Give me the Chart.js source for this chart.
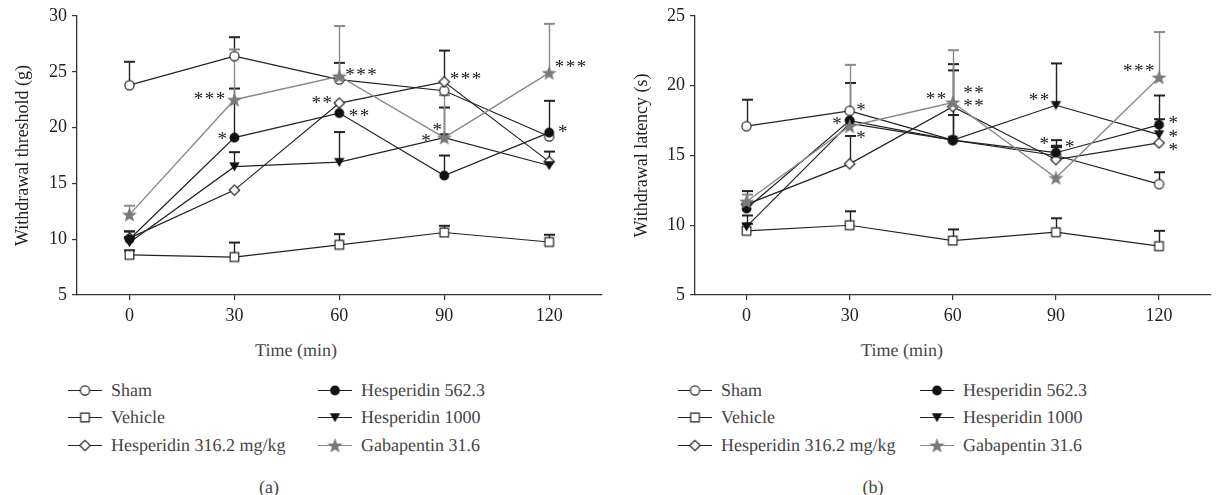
<!DOCTYPE html>
<html>
<head>
<meta charset="utf-8">
<script src="https://cdn.jsdelivr.net/npm/chart.js@4/dist/chart.umd.min.js"></script>
<style>
  body { margin: 0; background: #fff; font-family: "Liberation Serif", "DejaVu Serif", serif; color: #222; }
  #page { position: relative; width: 1218px; height: 495px; overflow: hidden; }
  .panel { position: absolute; top: 0; width: 609px; height: 330px; }
  .txt { position: absolute; font-size: 18px; font-weight: 400; line-height: 22px; height: 22px; white-space: nowrap; color: #444;
         text-rendering: geometricPrecision; -webkit-font-smoothing: antialiased; }
  .key { position: absolute; }
</style>
</head>
<body>
<div id="page">
  <div class="panel" style="left:0"><canvas id="chartA" width="609" height="330"></canvas></div>
  <div class="panel" style="left:609px"><canvas id="chartB" width="609" height="330"></canvas></div>
</div>
<script>
// time points and axis ticks
const times = [0, 30, 60, 90, 120];
const xTicks = [0, 30, 60, 90, 120];
const seriesNames = ['Sham', 'Vehicle', 'Hesperidin 316.2 mg/kg', 'Hesperidin 562.3', 'Hesperidin 1000', 'Gabapentin 31.6'];

// (a) withdrawal threshold (g), means and upper error
const shamA    = [23.8, 26.4, 24.3, 23.3, 19.2];
const vehicleA = [8.6, 8.4, 9.5, 10.6, 9.75];
const hes316A  = [10.1, 14.4, 22.2, 24.1, 16.95];
const hes562A  = [10.0, 19.1, 21.3, 15.7, 19.55];
const hes1000A = [9.7, 16.5, 16.9, 19.1, 16.6];
const gabaA    = [12.2, 22.5, 24.6, 19.1, 24.9];
const shamErrA    = [2.1, 1.7, 1.5, 0, 0];
const vehicleErrA = [0.4, 1.3, 0.95, 0.6, 0.65];
const hes316ErrA  = [0.6, 0, 0, 2.8, 0.9];
const hes562ErrA  = [0.7, 4.4, 0, 1.8, 2.85];
const hes1000ErrA = [0.5, 1.3, 2.7, 2.7, 0];
const gabaErrA    = [0.8, 4.5, 4.5, 3.8, 4.4];

// (b) withdrawal latency (s)
const shamB    = [17.1, 18.2, 16.1, 15.0, 12.95];
const vehicleB = [9.6, 10.0, 8.9, 9.5, 8.5];
const hes316B  = [11.5, 14.4, 18.5, 14.7, 15.9];
const hes562B  = [11.2, 17.5, 16.1, 15.2, 17.2];
const hes1000B = [9.9, 17.3, 16.1, 18.6, 16.5];
const gabaB    = [11.7, 17.1, 18.8, 13.4, 20.6];
const shamErrB    = [1.9, 0, 0, 0.6, 0.85];
const vehicleErrB = [0.5, 1.0, 0.8, 1.0, 1.1];
const hes316ErrB  = [0, 2.0, 3.05, 1.0, 0];
const hes562ErrB  = [1.25, 2.7, 1.8, 0.9, 2.1];
const hes1000ErrB = [0.8, 0, 5.0, 3.0, 1.1];
const gabaErrB    = [0.5, 4.4, 3.75, 0, 3.25];

// significance marks: [time, value, text]
const marksA = [
  [22.9, 22.86, '***'], [26.5, 19.33, '*'],
  [55.0, 22.56, '**'], [66.2, 25.07, '***'], [65.6, 21.33, '**'],
  [96.1, 24.7, '***'], [88.0, 20.08, '*'], [84.8, 19.13, '*'],
  [126.1, 25.76, '***'], [123.9, 19.94, '*']
];
const marksB = [
  [33.3, 18.5, '*'], [26.3, 17.5, '*'], [33.3, 16.48, '*'],
  [55.1, 19.29, '**'], [66.0, 19.76, '**'], [66.0, 18.8, '**'],
  [85.1, 19.2, '**'], [86.6, 16.07, '*'], [94.0, 15.83, '*'],
  [114.1, 21.3, '***'], [124.1, 17.55, '*'], [124.1, 16.6, '*'], [124.1, 15.67, '*']
];

const INK = '#222';
const GREY = '#8a8a8a';
const FONT = '"Liberation Serif", "DejaVu Serif", serif';
const markerKinds = ['openCircle', 'openSquare', 'openDiamond', 'dot', 'triDown', 'star'];
const lineColors = [INK, INK, INK, INK, INK, GREY];

// small canvas images used as point styles
function makeMarker(kind) {
  const c = document.createElement('canvas');
  c.width = 17; c.height = 17;
  const g = c.getContext('2d');
  const m = 8.5;
  g.lineWidth = 1.2;
  g.strokeStyle = INK;
  g.beginPath();
  if (kind === 'openCircle') {
    g.arc(m, m, 4.6, 0, Math.PI * 2);
    g.fillStyle = '#fff'; g.fill(); g.stroke();
  } else if (kind === 'openSquare') {
    g.rect(m - 4.3, m - 4.3, 8.6, 8.6);
    g.fillStyle = '#fff'; g.fill(); g.stroke();
  } else if (kind === 'openDiamond') {
    g.moveTo(m, m - 5.2); g.lineTo(m + 5.2, m); g.lineTo(m, m + 5.2); g.lineTo(m - 5.2, m); g.closePath();
    g.fillStyle = '#fff'; g.fill(); g.stroke();
  } else if (kind === 'dot') {
    g.arc(m, m, 4.9, 0, Math.PI * 2);
    g.fillStyle = '#111'; g.fill();
  } else if (kind === 'triDown') {
    g.moveTo(m - 5.2, m - 4.2); g.lineTo(m + 5.2, m - 4.2); g.lineTo(m, m + 4.8); g.closePath();
    g.fillStyle = '#111'; g.fill();
  } else if (kind === 'star') {
    for (let k = 0; k < 10; k++) {
      const r = k % 2 === 0 ? 8 : 3.3;
      const a = -Math.PI / 2 + k * Math.PI / 5;
      const px = m + r * Math.cos(a), py = m + 0.6 + r * Math.sin(a);
      if (k === 0) g.moveTo(px, py); else g.lineTo(px, py);
    }
    g.closePath();
    g.fillStyle = '#7a7a7a'; g.fill();
  }
  return c;
}
const markers = markerKinds.map(makeMarker);

// upper error bars, drawn through the chart scales
const errorBars = {
  id: 'errorBars',
  beforeDatasetsDraw(chart) {
    const { ctx, scales: { x, y } } = chart;
    chart.data.datasets.forEach(ds => {
      ds.data.forEach((p, i) => {
        const e = ds.errors[i];
        if (!e) return;
        const px = Math.round(x.getPixelForValue(p.x)) + 0.5;
        const py = y.getPixelForValue(p.y);
        const pt = y.getPixelForValue(p.y + e);
        ctx.save();
        ctx.strokeStyle = ds.borderColor;
        ctx.lineWidth = 1.4;
        ctx.beginPath(); ctx.moveTo(px, py); ctx.lineTo(px, pt); ctx.stroke();
        ctx.lineWidth = 2;
        ctx.beginPath(); ctx.moveTo(px - 5.5, pt); ctx.lineTo(px + 5.5, pt); ctx.stroke();
        ctx.restore();
      });
    });
  }
};

// asterisks placed on the scales
const starMarks = {
  id: 'starMarks',
  afterDatasetsDraw(chart, args, opts) {
    const { ctx, scales: { x, y } } = chart;
    ctx.save();
    ctx.font = '19px ' + FONT;
    ctx.fillStyle = INK;
    ctx.textAlign = 'center';
    ctx.textBaseline = 'alphabetic';
    (opts.marks || []).forEach(([t, v, s]) => {
      const cx = x.getPixelForValue(t);
      const cy = y.getPixelForValue(v) + 9.5;
      const n = s.length, pitch = 11;
      for (let k = 0; k < n; k++) {
        ctx.fillText('*', cx + (k - (n - 1) / 2) * pitch, cy);
      }
    });
    ctx.restore();
  }
};

function makeDatasets(values, errors) {
  return values.map((vals, s) => ({
    label: seriesNames[s],
    data: times.map((t, i) => ({ x: t, y: vals[i] })),
    errors: errors[s],
    borderColor: lineColors[s],
    borderWidth: s === 5 ? 1.4 : 1.2,
    pointStyle: markers[s],
    pointRadius: 6,
    order: values.length - s,
    tension: 0,
    fill: false
  }));
}

function buildChart(id, yTitle, yMax, titlePad, axisWidth, padRight, datasets, marks) {
  const tickFont = { family: FONT, size: 18 };
  return new Chart(document.getElementById(id), {
    type: 'line',
    data: { datasets: datasets },
    plugins: [errorBars, starMarks],
    options: {
      responsive: false,
      animation: false,
      devicePixelRatio: 1,
      layout: { padding: { top: 16, right: padRight, left: 0, bottom: 0 } },
      plugins: {
        legend: { display: false },
        tooltip: { enabled: false },
        starMarks: { marks: marks }
      },
      scales: {
        x: {
          type: 'linear',
          min: -15,
          max: 135,
          afterBuildTicks: s => { s.ticks = xTicks.map(v => ({ value: v })); },
          afterFit: s => { s.height = 35; },
          grid: { drawOnChartArea: false, tickLength: 5, color: '#333', lineWidth: 1.2 },
          border: { color: '#333', width: 1.3 },
          ticks: { font: tickFont, color: INK, padding: 5, maxRotation: 0 }
        },
        y: {
          min: 5,
          max: yMax,
          afterFit: s => { s.width = axisWidth; },
          grid: { drawOnChartArea: false, tickLength: 5, color: '#333', lineWidth: 1.2 },
          border: { color: '#333', width: 1.3 },
          ticks: { stepSize: 5, font: tickFont, color: INK, padding: 5 },
          title: { display: true, text: yTitle, font: tickFont, color: INK, padding: { top: titlePad, bottom: 0 } }
        }
      }
    }
  });
}

buildChart('chartA', 'Withdrawal threshold (g)', 30, 12, 77, 6,
  makeDatasets([shamA, vehicleA, hes316A, hes562A, hes1000A, gabaA],
               [shamErrA, vehicleErrA, hes316ErrA, hes562ErrA, hes1000ErrA, gabaErrA]), marksA);
buildChart('chartB', 'Withdrawal latency (s)', 25, 22, 86, 0,
  makeDatasets([shamB, vehicleB, hes316B, hes562B, hes1000B, gabaB],
               [shamErrB, vehicleErrB, hes316ErrB, hes562ErrB, hes1000ErrB, gabaErrB]), marksB);

// page text: axis titles, legends, captions
const page = document.getElementById('page');
function addText(str, left, centerY, align) {
  const d = document.createElement('div');
  d.className = 'txt';
  d.textContent = str;
  d.style.top = (centerY - 11) + 'px';
  d.style.left = left + 'px';
  if (align === 'center') d.style.transform = 'translateX(-50%)';
  page.appendChild(d);
}
function addKey(s, left, centerY) {
  const c = document.createElement('canvas');
  c.width = 34; c.height = 18;
  c.className = 'key';
  c.style.left = left + 'px';
  c.style.top = (centerY - 9) + 'px';
  const g = c.getContext('2d');
  g.strokeStyle = lineColors[s];
  g.lineWidth = 1.2;
  g.beginPath(); g.moveTo(0, 9.5); g.lineTo(34, 9.5); g.stroke();
  g.drawImage(markers[s], 17 - 8.5, 9.5 - 8.5);
  page.appendChild(c);
}

const panelLeft = [0, 609];
const titleCenter = [296, 293];
const captionCenter = [269, 264];
const captions = ['(a)', '(b)'];
const keyCols = [[68, 318], [69, 311]];
const rowsY = [390, 417, 445];
panelLeft.forEach((off, p) => {
  addText('Time (min)', off + titleCenter[p], 350, 'center');
  addText(captions[p], off + captionCenter[p], 487, 'center');
  seriesNames.forEach((name, s) => {
    const col = s < 3 ? 0 : 1;
    const row = s % 3;
    const kx = off + keyCols[p][col];
    addKey(s, kx, rowsY[row]);
    addText(name, kx + 43, rowsY[row], 'left');
  });
});
</script>
</body>
</html>
